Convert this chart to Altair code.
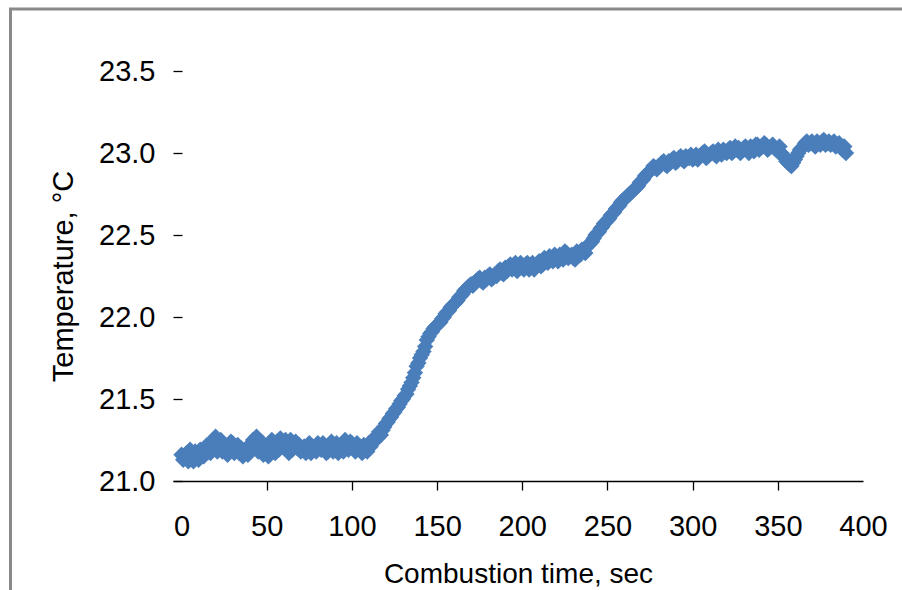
import altair as alt
import pandas as pd

# Combustion time (s): even and odd seconds
time_even = list(range(0, 392, 2))
time_odd = list(range(1, 390, 2))

# Temperature (°C), even seconds
temp_even = [
    21.16, 21.14, 21.12, 21.15, 21.18, 21.13, 21.17, 21.20, 21.19, 21.24,
    21.27, 21.22, 21.18, 21.21, 21.19, 21.23, 21.20, 21.17, 21.15, 21.19,
    21.22, 21.25, 21.27, 21.21, 21.16, 21.18, 21.22, 21.20, 21.24, 21.26,
    21.21, 21.19, 21.25, 21.22, 21.20, 21.18, 21.21, 21.19, 21.17, 21.20,
    21.23, 21.19, 21.21, 21.18, 21.24, 21.20, 21.17, 21.22, 21.25, 21.19,
    21.23, 21.18, 21.21, 21.17, 21.20, 21.23, 21.25, 21.27, 21.30, 21.31,
    21.35, 21.38, 21.41, 21.44, 21.47, 21.50, 21.53, 21.58, 21.63, 21.70,
    21.75, 21.79, 21.86, 21.90, 21.93, 21.95, 21.97, 22.00, 22.03, 22.06,
    22.08, 22.10, 22.13, 22.16, 22.18, 22.20, 22.21, 22.23, 22.22, 22.24,
    22.25, 22.23, 22.26, 22.28, 22.27, 22.30, 22.31, 22.29, 22.33, 22.31,
    22.30, 22.32, 22.29, 22.33, 22.31, 22.34, 22.32, 22.35, 22.37, 22.34,
    22.36, 22.38, 22.35, 22.39, 22.37, 22.36, 22.40, 22.38, 22.41, 22.43,
    22.45, 22.48, 22.51, 22.54, 22.57, 22.59, 22.62, 22.64, 22.67, 22.70,
    22.72, 22.74, 22.76, 22.78, 22.80, 22.83, 22.86, 22.88, 22.90, 22.91,
    22.92, 22.94, 22.93, 22.95, 22.96, 22.94, 22.97, 22.96, 22.98, 22.97,
    22.96, 22.99, 22.98, 23.00, 22.97, 22.99, 23.01, 22.98, 23.00, 23.02,
    23.00, 23.03, 23.01, 23.02, 23.00, 23.03, 23.02, 23.04, 23.01, 23.05,
    23.03, 23.06, 23.02, 23.04, 23.03, 23.01, 23.00, 22.97, 22.94, 22.92,
    22.96, 23.00, 23.03, 23.06, 23.05, 23.07, 23.04, 23.06, 23.07, 23.05,
    23.07, 23.06, 23.04, 23.06, 23.02, 23.00,
]

# Temperature (°C), odd seconds
temp_odd = [
    21.13, 21.17, 21.19, 21.12, 21.15, 21.19, 21.15, 21.22, 21.17, 21.20,
    21.18, 21.25, 21.22, 21.16, 21.24, 21.17, 21.22, 21.20, 21.18, 21.16,
    21.19, 21.21, 21.18, 21.24, 21.21, 21.15, 21.25, 21.17, 21.19, 21.22,
    21.25, 21.17, 21.19, 21.24, 21.22, 21.19, 21.17, 21.23, 21.21, 21.18,
    21.20, 21.23, 21.17, 21.21, 21.18, 21.23, 21.20, 21.18, 21.21, 21.24,
    21.20, 21.23, 21.19, 21.22, 21.18, 21.21, 21.24, 21.26, 21.28, 21.33,
    21.36, 21.39, 21.42, 21.45, 21.49, 21.52, 21.56, 21.60, 21.66, 21.72,
    21.77, 21.82, 21.88, 21.91, 21.94, 21.96, 21.99, 22.02, 22.04, 22.07,
    22.09, 22.12, 22.14, 22.17, 22.19, 22.19, 22.22, 22.24, 22.21, 22.23,
    22.26, 22.24, 22.25, 22.29, 22.26, 22.28, 22.32, 22.30, 22.28, 22.33,
    22.29, 22.33, 22.31, 22.29, 22.33, 22.31, 22.36, 22.33, 22.35, 22.38,
    22.34, 22.37, 22.40, 22.36, 22.38, 22.35, 22.39, 22.41, 22.39, 22.44,
    22.46, 22.50, 22.52, 22.55, 22.58, 22.60, 22.63, 22.66, 22.68, 22.71,
    22.73, 22.75, 22.77, 22.79, 22.82, 22.84, 22.87, 22.89, 22.92, 22.90,
    22.93, 22.95, 22.92, 22.94, 22.97, 22.95, 22.98, 22.95, 22.97, 22.99,
    22.97, 22.96, 22.99, 23.01, 22.98, 23.00, 22.99, 23.02, 22.99, 23.01,
    23.02, 23.00, 23.04, 23.03, 23.01, 23.04, 23.00, 23.03, 23.05, 23.02,
    23.04, 23.05, 23.03, 23.05, 23.02, 23.04, 22.99, 22.95, 22.93, 22.94,
    22.98, 23.02, 23.04, 23.07, 23.06, 23.05, 23.07, 23.05, 23.08, 23.06,
    23.05, 23.07, 23.05, 23.03, 23.04,
]

x_ticks = [0, 50, 100, 150, 200, 250, 300, 350, 400]
y_ticks = [21.0, 21.5, 22.0, 22.5, 23.0, 23.5]

df = pd.DataFrame({
    "t": time_even + time_odd,
    "T": temp_even + temp_odd,
})

FONT = "Liberation Sans"

points = alt.Chart(df).mark_point(
    shape="diamond", filled=True, size=270, color="#4A7EBB", opacity=1
).encode(
    x=alt.X(
        "t:Q",
        scale=alt.Scale(domain=[-5, 400], nice=False, zero=False),
        axis=alt.Axis(
            values=x_ticks,
            format="d",
            title="Combustion time, sec",
            grid=False,
            domainColor="black",
            domainWidth=1.5,
            tickColor="black",
            tickSize=9,
            tickWidth=1.3,
            tickOpacity={"condition": {"test": "datum.value == 0 || datum.value == 400", "value": 0}, "value": 1},
            labelFont=FONT,
            labelFontSize=29,
            labelColor="black",
            labelPadding=22,
            labelFlush=False,
            labelOverlap=False,
            titleFont=FONT,
            titleFontSize=28,
            titleFontWeight="normal",
            titleColor="black",
            titleBaseline="alphabetic",
            titleY=101,
        ),
    ),
    y=alt.Y(
        "T:Q",
        scale=alt.Scale(domain=[21.0, 23.5], nice=False, zero=False),
        axis=alt.Axis(
            values=y_ticks,
            format=".1f",
            title="Temperature, °C",
            grid=False,
            domain=False,
            offset=-9,
            tickColor="black",
            tickSize=9,
            tickWidth=1.3,
            labelFont=FONT,
            labelFontSize=29,
            labelColor="black",
            labelPadding=18,
            labelFlush=False,
            labelOverlap=False,
            titleFont=FONT,
            titleFontSize=29,
            titleFontWeight="normal",
            titleColor="black",
            titleAngle=270,
            titleBaseline="alphabetic",
            titleAlign="center",
            titleX=-110,
            titleY=205,
        ),
    ),
)

frame = alt.Chart(alt.Data(values=[{}])).mark_rect(
    fillOpacity=0, stroke="#8a8a8a", strokeWidth=3
).encode(
    x=alt.value(-162.5),
    x2=alt.value(760),
    y=alt.value(-62),
    y2=alt.value(560),
)

chart = alt.layer(frame, points).properties(
    width=690,
    height=410,
    autosize=alt.AutoSizeParams(type="none"),
    padding={"left": 173, "top": 71, "right": 39, "bottom": 109},
    background="white",
).configure_view(stroke=None)

chart.save("out.html", embed_options={"renderer": "svg", "actions": False})
